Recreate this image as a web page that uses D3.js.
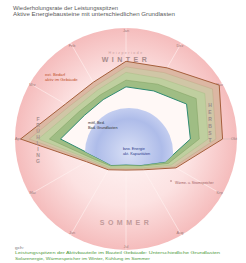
<!DOCTYPE html>
<html>
<head>
<meta charset="utf-8">
<script src="https://cdn.jsdelivr.net/npm/d3@7"></script>
<style>
  html, body { margin: 0; padding: 0; background: #fff; }
  svg { display: block; font-family: "Liberation Sans", Arial, sans-serif; }
</style>
</head>
<body>
<div id="chart"></div>
<script>
(function () {

  /***** Daten *****/
  var monate = ["Jan", "Feb", "Mrz", "Apr", "Mai", "Jun", "Jul", "Aug", "Sep", "Okt", "Nov", "Dez"]

  // Ringe von aussen nach innen (Werte je Monat, 0..100)
  var reiheA = [70, 59, 63, 95, 41, 32, 28, 32, 52, 87, 97, 74]
  var reiheB = [65, 55, 59, 87, 39, 31, 27, 31, 50, 81, 90, 69]
  var reiheC = [60, 51, 54, 79, 37, 30, 26, 30, 47, 74, 82, 63]
  var reiheD = [53, 46, 49, 69, 35, 28, 24, 28, 44, 66, 73, 57]
  var reiheE = [47, 41, 43, 59, 32, 27, 23, 27, 41, 58, 63, 50]

  var jahreszeiten = ["WINTER", "FRÜHLING", "SOMMER", "HERBST"]

  var titel = ["Wiederholungsrate der Leistungsspitzen",
               "Aktive Energiebausteine mit unterschiedlichen Grundlasten"]
  var fussnote = ["gch:",
                  "Leistungsspitzen der Aktivbauteile im Bauteil Gebäude: Unterschiedliche Grundlasten",
                  "Solarenergie, Wärmespeicher im Winter, Kühlung im Sommer"]

  /***** Konfiguration *****/
  var width = 246, height = 263
  var cx = 126, cy = 139, R = 111

  var svg = d3.select("#chart").append("svg")
      .attr("width", width)
      .attr("height", height)

  var defs = svg.append("defs")
  var gPink = defs.append("radialGradient").attr("id", "pink")
  gPink.append("stop").attr("offset", "0%").attr("stop-color", "#fff8f8")
  gPink.append("stop").attr("offset", "60%").attr("stop-color", "#fce2e2")
  gPink.append("stop").attr("offset", "100%").attr("stop-color", "#f5bcbc")

  var gBlau = defs.append("radialGradient").attr("id", "blau")
  gBlau.append("stop").attr("offset", "0%").attr("stop-color", "#d9e0f6")
  gBlau.append("stop").attr("offset", "75%").attr("stop-color", "#aebce9")
  gBlau.append("stop").attr("offset", "100%").attr("stop-color", "#c4cef0")

  var r = d3.scaleLinear().domain([0, 100]).range([0, R])
  // Monate gegen den Uhrzeigersinn, Januar oben
  var angle = d3.scalePoint().domain(monate).range([0, -2 * Math.PI * 11 / 12])

  var g = svg.append("g").attr("transform", "translate(" + cx + "," + cy + ")")

  g.append("circle").attr("r", R).attr("fill", "url(#pink)")

  // Speichen
  g.selectAll(".speiche").data(monate).enter().append("line")
      .attr("x2", d => R * Math.sin(angle(d)))
      .attr("y2", d => -R * Math.cos(angle(d)))
      .attr("stroke", "#fff3f1").attr("stroke-width", 0.6)
  g.append("line").attr("x1", -R).attr("x2", R)
      .attr("stroke", "#c99a9a").attr("stroke-width", 0.6)

  // Monatsbeschriftung am Rand
  g.selectAll(".monat").data(monate).enter().append("text")
      .attr("x", d => (R - 3) * Math.sin(angle(d)))
      .attr("y", d => -(R - 3) * Math.cos(angle(d)) + 1.4)
      .attr("text-anchor", "middle")
      .attr("font-size", 3.8).attr("fill", "#a07878")
      .text(d => d)

  // Jahreszeiten oben/unten
  g.append("text").attr("y", -85).attr("text-anchor", "middle")
      .attr("font-size", 3.5).attr("fill", "#c9a0a0").attr("letter-spacing", 1.5)
      .text("Heizperiode")
  g.append("text").attr("y", -77).attr("text-anchor", "middle")
      .attr("font-size", 7).attr("font-weight", "bold").attr("fill", "#a88c8c")
      .attr("letter-spacing", 3.5).text(jahreszeiten[0])
  g.append("text").attr("y", 86).attr("text-anchor", "middle")
      .attr("font-size", 7).attr("font-weight", "bold").attr("fill", "#c29a9a")
      .attr("letter-spacing", 3.5).text(jahreszeiten[2])

  // Ringe
  var radial = d3.lineRadial()
      .angle((d, i) => angle(monate[i]))
      .radius(d => r(d))
      .curve(d3.curveLinearClosed)

  var ringe = [
    { werte: reiheA, fill: "#dcb7a3", stroke: "#a65f3c", sw: 1 },
    { werte: reiheB, fill: "#d0c6a6", stroke: "#bca482", sw: 0.4 },
    { werte: reiheC, fill: "#bfcf9f", stroke: "#a3b882", sw: 0.4 },
    { werte: reiheD, fill: "#9fbd84", stroke: "#7f9f60", sw: 0.5 },
    { werte: reiheE, fill: "#fff8f6", stroke: "#2f8a72", sw: 1 }
  ]

  g.selectAll(".ring").data(ringe).enter().append("path")
      .attr("d", d => radial(d.werte))
      .attr("fill", d => d.fill)
      .attr("stroke", d => d.stroke)
      .attr("stroke-width", d => d.sw)
      .attr("stroke-linejoin", "round")

  defs.append("clipPath").attr("id", "innen")
      .append("path").attr("d", radial(reiheE))
      .attr("transform", "translate(" + cx + "," + cy + ")")

  svg.append("circle")
      .attr("cx", cx + 3).attr("cy", cy + 13).attr("r", 44)
      .attr("fill", "url(#blau)")
      .attr("clip-path", "url(#innen)")

  // senkrechte Jahreszeiten
  g.selectAll(".links").data(jahreszeiten[1].split("")).enter().append("text")
      .attr("x", -88).attr("y", (d, i) => -18 + i * 6)
      .attr("text-anchor", "middle").attr("font-size", 5)
      .attr("font-weight", "bold").attr("fill", "#a89090").text(d => d)
  g.selectAll(".rechts").data(jahreszeiten[3].split("")).enter().append("text")
      .attr("x", 84).attr("y", (d, i) => -32 + i * 7)
      .attr("text-anchor", "middle").attr("font-size", 5)
      .attr("font-weight", "bold").attr("fill", "#9a8a8a").text(d => d)

  // Anmerkungen
  svg.append("text").attr("x", 45).attr("y", 76).attr("font-size", 4.2)
      .attr("fill", "#c0502a").text("ext. Bedarf")
  svg.append("text").attr("x", 45).attr("y", 81).attr("font-size", 4.2)
      .attr("fill", "#c0502a").text("aktiv im Gebäude")
  svg.append("text").attr("x", 88).attr("y", 124).attr("font-size", 3.8)
      .attr("fill", "#333").text("mittl. Bed.")
  svg.append("text").attr("x", 88).attr("y", 129).attr("font-size", 3.8)
      .attr("fill", "#333").text("Bad. Grundlasten")
  svg.append("text").attr("x", 123).attr("y", 150).attr("font-size", 3.8)
      .attr("fill", "#2a3a8a").text("bzw. Energie")
  svg.append("text").attr("x", 123).attr("y", 155).attr("font-size", 3.8)
      .attr("fill", "#2a3a8a").text("akt. Kapazitäten")
  svg.append("circle").attr("cx", 171).attr("cy", 181).attr("r", 0.8).attr("fill", "#b07070")
  svg.append("text").attr("x", 175).attr("y", 184).attr("font-size", 3.4)
      .attr("fill", "#a06060").text("Wärme- u. Stromspeicher")

  // Titel und Fussnote
  svg.selectAll(".titel").data(titel).enter().append("text")
      .attr("x", 13).attr("y", (d, i) => 10 + i * 6)
      .attr("font-size", 4.8).attr("fill", "#5a5a5a")
      .attr("textLength", (d, i) => i ? 162 : 105)
      .attr("lengthAdjust", "spacingAndGlyphs")
      .text(d => d)

  svg.selectAll(".fuss").data(fussnote).enter().append("text")
      .attr("x", 15).attr("y", (d, i) => 249 + i * 5.3)
      .attr("font-size", 4.2)
      .attr("fill", (d, i) => i ? "#4e9a3c" : "#777")
      .attr("textLength", (d, i) => [9, 205, 135][i])
      .attr("lengthAdjust", "spacingAndGlyphs")
      .text(d => d)

})()
</script>
</body>
</html>
